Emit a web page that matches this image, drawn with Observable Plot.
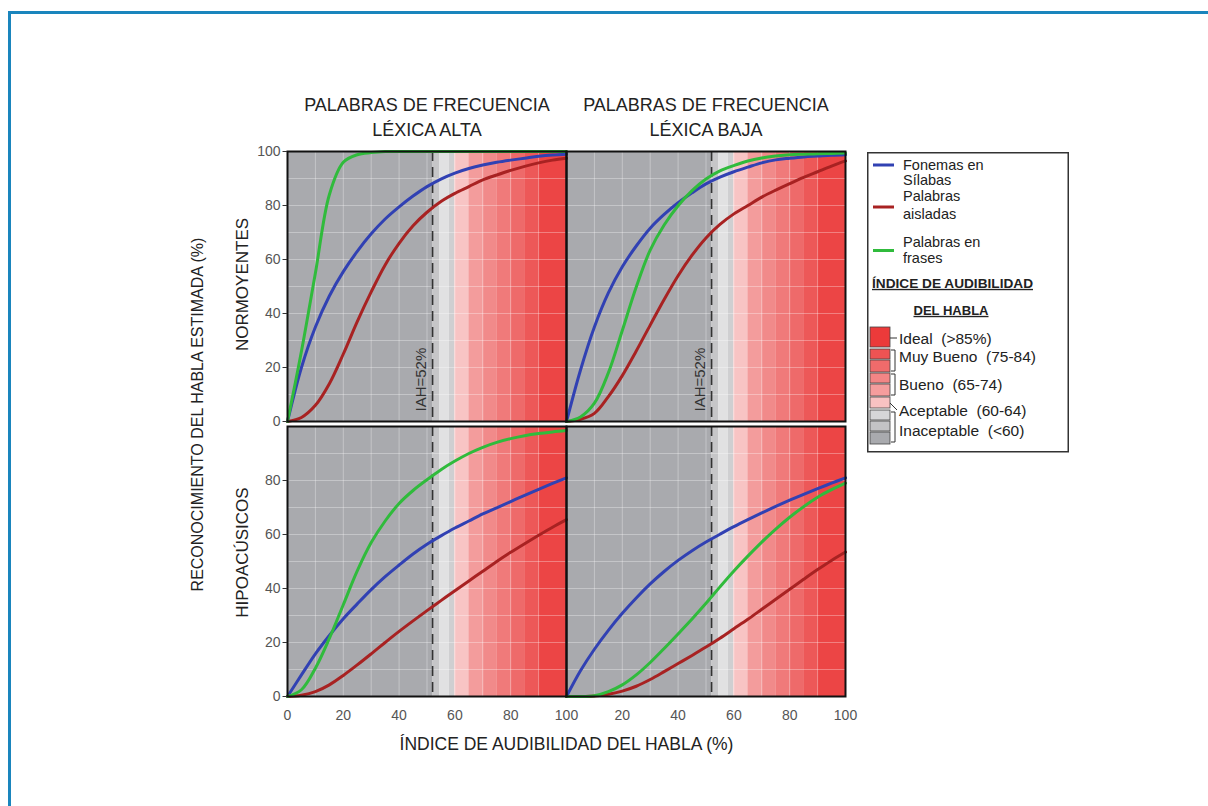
<!DOCTYPE html>
<html><head><meta charset="utf-8">
<script src="https://cdn.jsdelivr.net/npm/d3@7"></script>
<script src="https://cdn.jsdelivr.net/npm/@observablehq/plot@0.6"></script>
<style>
html,body{margin:0;padding:0;background:#fff;width:1208px;height:806px;overflow:hidden;font-family:"Liberation Sans",Arial,sans-serif;}
#frame{position:absolute;left:8px;top:11px;width:1400px;height:1000px;border:3px solid #1a85bd;box-sizing:border-box;}
#chart{position:absolute;left:0;top:0;}
#legend{position:absolute;left:867px;top:152px;}
</style></head><body>
<div id="frame"></div>
<div id="chart"></div>
<div id="legend"></div>
<script>
// ---------- data ----------
const columns = ["alta", "baja"];
const columnTitles = ["PALABRAS DE FRECUENCIA\nLÉXICA ALTA", "PALABRAS DE FRECUENCIA\nLÉXICA BAJA"];
const rows = ["Normoyentes", "Hipoacúsicos"];
const rowTitles = ["NORMOYENTES", "HIPOACÚSICOS"];
const series = ["Fonemas en Sílabas", "Palabras aisladas", "Palabras en frases"];
const seriesLegend = ["Fonemas en\nSílabas", "Palabras\naisladas", "Palabras en\nfrases"];

const iahPct = [0,5,10,15,20,25,30,35,40,45,50,55,60,65,70,75,80,85,90,95,100];

// Normoyentes – léxica alta
const nAltaFonemas  = [0,20,35,46.5,55.5,63,69.5,75,79.5,83.5,87,89.8,92,93.7,95,96,96.8,97.5,98.2,98.7,99];
const nAltaAisladas = [0,1.5,6,14,25,37,48,58,66,72.5,77.5,81.5,84.5,87,89.5,91.3,93,94.5,95.8,96.8,97.5];
const nAltaFrases   = [0,26,55,84,96,98.8,99.6,100,100,100,100,100,100,100,100,100,100,100,100,100,100];
// Normoyentes – léxica baja
const nBajaFonemas  = [0,19,35,47.6,57.3,65,71.6,76.7,81,84.7,88,90.5,92.5,94.2,95.8,96.9,97.5,98,98.3,98.6,98.8];
const nBajaAisladas = [0,0.8,3,9.2,17,26.1,35.7,45.2,54,61.6,68,73,76.9,80,83.1,85.7,88.1,90.4,92.5,94.6,96.5];
const nBajaFrases   = [0,1.7,6.8,18,33.7,49.8,63.5,72.8,79.9,85.5,89.8,92.8,94.8,96.5,97.6,98.3,98.8,99,99.2,99.3,99.4];
// Hipoacúsicos – léxica alta
const hAltaFonemas  = [0,8,15.8,22.6,28.8,34.3,39.6,44.4,48.7,52.8,56.4,59.5,62.4,65,67.6,69.9,72.2,74.5,76.7,78.9,81];
const hAltaAisladas = [0,0.5,1.8,4.3,7.8,11.7,15.8,20,24.1,28,31.8,35.5,39.2,42.8,46.4,50,53.4,56.6,59.7,62.7,65.5];
const hAltaFrases   = [0,2.5,10.5,21.5,34,46.5,57,65,71.5,76.3,80.3,84,87.2,90,92.3,94.1,95.5,96.6,97.4,98,98.5];
// Hipoacúsicos – léxica baja
const hBajaFonemas  = [0,9.5,17.5,24.5,30.8,36.5,41.7,46.3,50.4,54,57.2,60.1,62.9,65.5,68,70.4,72.7,74.9,77,79,81];
const hBajaAisladas = [0,0,0.2,0.8,2,3.8,6.3,9.2,12.2,15.2,18.3,21.6,25.1,28.6,32.3,36,39.7,43.4,47,50.4,53.5];
const hBajaFrases   = [0,0,0.3,1.8,4.3,8,12.6,17.8,23.2,28.7,34.5,40.6,46.5,52,57.2,62,66.4,70.3,73.8,76.6,79];

const iahMarker = 52;
const iahMarkerLabel = "IAH=52%";

// background zones of the speech audibility index
const bandStart = [0, 52, 54.5, 58, 60, 65, 70, 75, 80, 85, 90];
const bandEnd   = [52, 54.5, 58, 60, 65, 70, 75, 80, 85, 90, 100];

const xTicks = [0,20,40,60,80,100];
const yTicksTop = [0,20,40,60,80,100];
const yTicksBottom = [0,20,40,60,80];
const gridTicks = [10,20,30,40,50,60,70,80,90];

const legendCategories = ["Ideal  (>85%)", "Muy Bueno  (75-84)", "Bueno  (65-74)", "Aceptable  (60-64)", "Inaceptable  (<60)"];

// ---------- styles ----------
const seriesColors = ["#3141b3", "#a82222", "#30bb3c"];
const bandFill = ["#a9aaae","#c6c6c8","#e1e1e2","#cfcfd1","#f8c4c4","#f39c9c","#f18a8a","#f07a7a","#ee6a6a","#ed5858","#ec4545"];

// ---------- build tables ----------
const panelValues = {
  "alta|Normoyentes": [nAltaFonemas, nAltaAisladas, nAltaFrases],
  "baja|Normoyentes": [nBajaFonemas, nBajaAisladas, nBajaFrases],
  "alta|Hipoacúsicos": [hAltaFonemas, hAltaAisladas, hAltaFrases],
  "baja|Hipoacúsicos": [hBajaFonemas, hBajaAisladas, hBajaFrases]
};
const curves = [];
for (const col of columns) for (const row of rows) {
  const vals = panelValues[col + "|" + row];
  series.forEach((s, i) => iahPct.forEach((x, j) => curves.push({col, row, serie: s, x, y: vals[i][j]})));
}
const bands = bandStart.map((s, i) => ({s, e: bandEnd[i], fill: bandFill[i]}));
const xLabels = [
  ...xTicks.map(v => ({col: "alta", v})),
  ...xTicks.filter(v => v > 0).map(v => ({col: "baja", v}))
];
const yLabels = [
  ...yTicksTop.map(v => ({row: "Normoyentes", v})),
  ...yTicksBottom.map(v => ({row: "Hipoacúsicos", v}))
];
const colTitleData = columns.map((c, i) => ({col: c, t: columnTitles[i]}));
const colorOf = Object.fromEntries(series.map((s, i) => [s, seriesColors[i]]));

const font = "'Liberation Sans', Arial, sans-serif";

const chart = Plot.plot({
  width: 1208, height: 806,
  marginLeft: 287, marginRight: 363, marginTop: 150, marginBottom: 109,
  x: {domain: [0, 100], axis: null},
  y: {domain: [0, 100], axis: null},
  fx: {domain: columns, axis: null, padding: 0},
  fy: {domain: rows, axis: null, padding: 0.018},
  color: {type: "identity"},
  style: {fontFamily: font, background: "transparent", overflow: "visible"},
  marks: [
    Plot.rect(bands, {x1: "s", x2: "e", y1: 0, y2: 100, fill: "fill"}),
    Plot.ruleX(gridTicks, {stroke: "#fff", strokeOpacity: 0.32, strokeWidth: 1}),
    Plot.ruleY(gridTicks, {stroke: "#fff", strokeOpacity: 0.32, strokeWidth: 1}),
    Plot.ruleX([iahMarker], {stroke: "#333", strokeWidth: 1.6, strokeDasharray: "10,6"}),
    Plot.text([iahMarkerLabel], {fy: () => "Normoyentes", x: iahMarker, y: 15.5, text: d => d, rotate: -90, textAnchor: "middle", dx: -11, fontSize: 15, fill: "#333"}),
    Plot.line(curves, {fx: "col", fy: "row", x: "x", y: "y", z: "serie", stroke: d => colorOf[d.serie], strokeWidth: 3, curve: "catmull-rom"}),
    Plot.frame({stroke: "#111", strokeWidth: 2}),
    // tick labels
    Plot.text(xLabels, {fx: "col", fy: () => "Hipoacúsicos", x: "v", y: 0, text: d => String(d.v), dy: 19, fontSize: 14, fill: "#555"}),
    Plot.text(yLabels, {fx: () => "alta", fy: "row", x: 0, y: "v", text: d => String(d.v), dx: -7, textAnchor: "end", fontSize: 14, fill: "#555"}),
    Plot.ruleY(yLabels, {fx: () => "alta", fy: "row", y: "v", x1: -1.6, x2: 0, stroke: "#333", strokeWidth: 1}),
    // facet titles
    Plot.text(colTitleData, {fx: "col", fy: () => "Normoyentes", frameAnchor: "top", lineAnchor: "middle", textAnchor: "middle", text: "t", dy: -36.5, lineHeight: 1.39, fontSize: 18, fill: "#222"}),
    Plot.text([rowTitles[0]], {fx: () => "alta", fy: () => rows[0], frameAnchor: "left", textAnchor: "middle", lineAnchor: "middle", text: d => d, rotate: -90, dx: -45, dy: -2, fontSize: 17, fill: "#222"}),
    Plot.text([rowTitles[1]], {fx: () => "alta", fy: () => rows[1], frameAnchor: "left", textAnchor: "middle", lineAnchor: "middle", text: d => d, rotate: -90, dx: -45, dy: -9, fontSize: 17, fill: "#222"}),
    // axis titles
    Plot.text(["RECONOCIMIENTO DEL HABLA ESTIMADA (%)"], {fx: () => "alta", fy: () => "Normoyentes", frameAnchor: "bottom-left", textAnchor: "middle", lineAnchor: "middle", text: d => d, rotate: -90, dx: -90, dy: -7, fontSize: 16, fill: "#222"}),
    Plot.text(["ÍNDICE DE AUDIBILIDAD DEL HABLA (%)"], {fx: () => "alta", fy: () => "Hipoacúsicos", frameAnchor: "bottom-right", textAnchor: "middle", lineAnchor: "middle", text: d => d, dy: 48, fontSize: 17.5, fill: "#222"})
  ]
});
document.getElementById("chart").appendChild(chart);

// ---------- legend ----------
const W = 202, H = 302;
const svg = d3.select("#legend").append("svg").attr("width", W).attr("height", H)
  .style("font-family", font).style("overflow", "visible");
svg.append("rect").attr("x", 0.75).attr("y", 0.75).attr("width", W - 1.5).attr("height", H - 3)
  .attr("fill", "#fff").attr("stroke", "#333").attr("stroke-width", 1.5);

const lineY = [13, 55, 98.5];
const textY = [[12.5, 28], [44, 62], [90, 106]];
series.forEach((s, i) => {
  svg.append("line").attr("x1", 6).attr("x2", 27).attr("y1", lineY[i]).attr("y2", lineY[i])
    .attr("stroke", seriesColors[i]).attr("stroke-width", 3);
  seriesLegend[i].split("\n").forEach((t, k) => {
    svg.append("text").attr("x", 36).attr("y", textY[i][k]).attr("dy", "0.36em")
      .attr("font-size", 14.5).attr("fill", "#222").text(t);
  });
});
const head = ["ÍNDICE DE AUDIBILIDAD", "DEL HABLA"];
svg.append("text").attr("x", 5).attr("y", 131).attr("dy", "0.36em").attr("font-size", 13.5)
  .attr("font-weight", "bold").attr("textLength", 161).attr("lengthAdjust", "spacingAndGlyphs")
  .attr("fill", "#222").attr("text-decoration", "underline").text(head[0]);
svg.append("text").attr("x", 84).attr("y", 158).attr("dy", "0.36em").attr("font-size", 13.5)
  .attr("font-weight", "bold").attr("text-anchor", "middle").attr("textLength", 75).attr("lengthAdjust", "spacingAndGlyphs")
  .attr("fill", "#222").attr("text-decoration", "underline").text(head[1]);

const swatchY = [[175,195],[197,207],[208,220],[221,231],[232,244],[245,256],[258,268],[269,279],[280,292]];
const swatchFill = ["#ec3a3a","#ee5353","#f06b6b","#f38585","#f59d9d","#f8c2c2","#d6d6d8","#c3c3c5","#a9aaae"];
swatchY.forEach(([a, b], i) => {
  svg.append("rect").attr("x", 3).attr("y", a).attr("width", 20).attr("height", b - a)
    .attr("fill", swatchFill[i]).attr("stroke", "#444").attr("stroke-width", 0.8);
});
const labelY = [186, 204, 232, 258, 278];
legendCategories.forEach((t, i) => {
  svg.append("text").attr("x", 32).attr("y", labelY[i]).attr("dy", "0.36em").attr("font-size", 15.5)
    .attr("fill", "#222").style("white-space", "pre").attr("xml:space", "preserve").text(t);
});
// bracket connectors
const br = d3.path();
br.moveTo(23, 186); br.lineTo(30, 186);
br.moveTo(24, 198); br.lineTo(28, 198); br.lineTo(28, 219); br.lineTo(24, 219);
br.moveTo(24, 222); br.lineTo(28, 222); br.lineTo(28, 243); br.lineTo(24, 243);
br.moveTo(23, 251); br.lineTo(30, 258);
br.moveTo(24, 260); br.lineTo(28, 260); br.lineTo(28, 290); br.lineTo(24, 290);
svg.append("path").attr("d", br.toString()).attr("fill", "none").attr("stroke", "#333").attr("stroke-width", 1);
</script>
</body></html>
